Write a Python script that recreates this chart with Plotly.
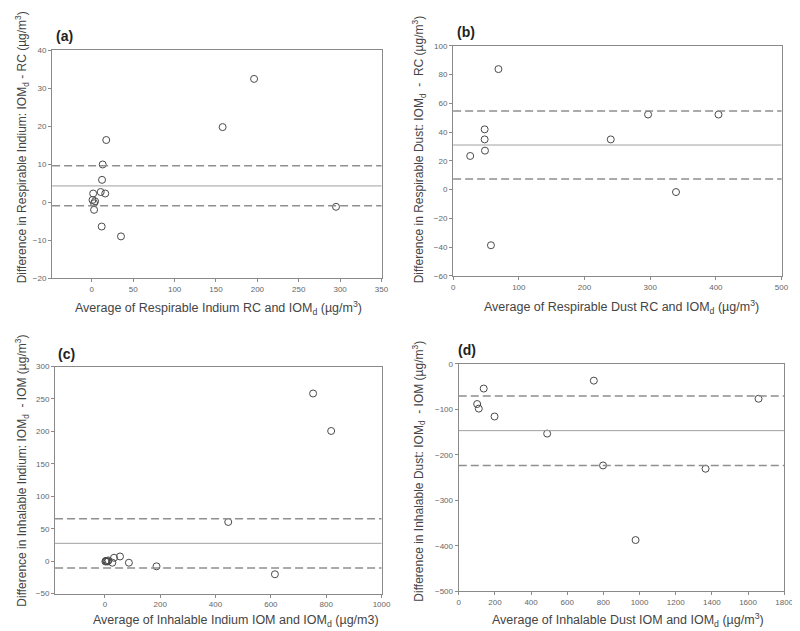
import plotly.graph_objects as go

# ---------------- data ----------------
# (a) Respirable Indium
a_x = [196, 158, 17.4, 13.1, 12.3, 10.7, 16.2, 1.6, 0.8, 3.9, 2.7, 2.7, 11.9, 35.2, 295]
a_y = [32.5, 19.8, 16.4, 9.95, 5.9, 2.7, 2.3, 2.3, 0.6, 0.26, -0.26, -2.0, -6.4, -9.0, -1.2]
a_lines = [4.3, 9.6, -0.95]  # mean, upper, lower

# (b) Respirable Dust
b_x = [26, 48, 48, 48.5, 69, 57.6, 240, 296.8, 404, 339.3]
b_y = [23.4, 41.9, 34.9, 27.1, 83.8, -38.7, 34.9, 52.2, 52.2, -1.7]
b_lines = [31.0, 54.7, 7.4]

# (c) Inhalable Indium
c_x = [752.7, 818, 445.9, 54.7, 33, 27, 13, 2, 6, 10, 4, 86.8, 186.7, 614.7]
c_y = [258.5, 200.7, 60.4, 7.2, 5.2, -2.4, 1.1, -0.5, 0, -0.5, 0.5, -2.4, -8, -20.2]
c_lines = [27.5, 65.5, -10.5]

# (d) Inhalable Dust
d_x = [101.8, 110.9, 138, 198, 489, 747, 798, 978, 1365, 1658]
d_y = [-88.2, -98.3, -54.2, -115.6, -153.2, -36.8, -223.3, -387.3, -230.5, -76.6]
d_lines = [-146.7, -70.8, -223.3]

W, H = 800, 631

panels = [
    dict(x=a_x, y=a_y, lines=a_lines,
         xrange=[-48, 350], xdt=50, x0=0, yrange=[-20, 40], ydt=10,
         px=(42.7, 376.7), py=(39, 270), label="(a)", lab=(45, 24),
         ytitle="Difference in Respirable Indium: IOM<sub>d</sub> - RC (µg/m<sup>3</sup>)",
         ytp=(12.5, 137),
         xtitle="Average of Respirable Indium RC and IOM<sub>d</sub> (µg/m<sup>3</sup>)",
         xtp=(211, 300)),
    dict(x=b_x, y=b_y, lines=b_lines,
         xrange=[0, 500], xdt=100, x0=0, yrange=[-60, 100], ydt=20,
         px=(449.3, 782.3), py=(34.3, 267.7), label="(b)", lab=(451, 20),
         ytitle="Difference in Respirable Dust: IOM<sub>d</sub>  -  RC (µg/m<sup>3</sup>)",
         ytp=(415, 140),
         xtitle="Average of Respirable Dust RC and IOM<sub>d</sub> (µg/m<sup>3</sup>)",
         xtp=(620, 299)),
    dict(x=c_x, y=c_y, lines=c_lines,
         xrange=[-180, 1000], xdt=200, x0=0, yrange=[-50, 300], ydt=50,
         px=(45.7, 376.7), py=(359.7, 590), label="(c)", lab=(47, 347),
         ytitle="Difference in Inhalable Indium: IOM<sub>d</sub>  - IOM (µg/m<sup>3</sup>)",
         ytp=(12.5, 465),
         xtitle="Average of Inhalable Indium IOM and IOM<sub>d</sub> (µg/m3)",
         xtp=(229, 618)),
    dict(x=d_x, y=d_y, lines=d_lines,
         xrange=[0, 1800], xdt=200, x0=0, yrange=[-500, 0], ydt=100,
         px=(455, 785), py=(357, 587.7), label="(d)", lab=(452, 343),
         ytitle="Difference in Inhalable Dust: IOM<sub>d</sub>  - IOM (µg/m<sup>3</sup>)",
         ytp=(415, 466),
         xtitle="Average of Inhalable Dust IOM and IOM<sub>d</sub> (µg/m<sup>3</sup>)",
         xtp=(627, 617)),
]

fig = go.Figure()
layout = dict(width=W, height=H, margin=dict(l=0, r=0, t=0, b=0),
              paper_bgcolor="white", plot_bgcolor="white", showlegend=False,
              font=dict(family="Liberation Sans, Arial, sans-serif", color="#555"))
annotations = []
shapes = []

AX_COL = "#8a8a8a"
for i, p in enumerate(panels):
    n = "" if i == 0 else str(i + 1)
    xa, ya = "x" + n, "y" + n
    fig.add_trace(go.Scatter(
        x=p["x"], y=p["y"], mode="markers", xaxis=xa, yaxis=ya,
        marker=dict(symbol="circle-open", size=7, color="#4a4a4a",
                    line=dict(width=1, color="#4a4a4a")),
        hoverinfo="x+y"))
    common = dict(showgrid=False, zeroline=False, showline=True, linecolor=AX_COL,
                  linewidth=1.2, mirror=True, ticks="outside", ticklen=3,
                  tickcolor=AX_COL, tickwidth=1,
                  tickfont=dict(size=8, color="#666", family="Liberation Sans, Arial"))
    layout["xaxis" + n] = dict(common, domain=[p["px"][0] / W, p["px"][1] / W],
                               anchor=ya, range=p["xrange"], tick0=p["x0"],
                               dtick=p["xdt"])
    layout["yaxis" + n] = dict(common, domain=[1 - p["py"][1] / H, 1 - p["py"][0] / H],
                               anchor=xa, range=p["yrange"], dtick=p["ydt"])
    # mean and limits of agreement
    for j, v in enumerate(p["lines"]):
        shapes.append(dict(type="line", xref=xa + " domain", yref=ya,
                           x0=0, x1=1, y0=v, y1=v,
                           line=dict(color="#a0a0a0" if j == 0 else "#8f8f8f",
                                     width=1 if j == 0 else 1.5,
                                     dash="solid" if j == 0 else "8px,4px")))
    annotations.append(dict(text="<b>" + p["label"] + "</b>", xref="paper", yref="paper",
                            x=p["lab"][0] / W, y=1 - p["lab"][1] / H, showarrow=False,
                            xanchor="left", yanchor="middle",
                            font=dict(size=14, color="#222", family="Liberation Sans, Arial")))
    annotations.append(dict(text=p["ytitle"], xref="paper", yref="paper",
                            x=p["ytp"][0] / W, y=1 - p["ytp"][1] / H, showarrow=False,
                            textangle=-90, xanchor="center", yanchor="middle",
                            font=dict(size=12, color="#444", family="Liberation Sans, Arial")))
    annotations.append(dict(text=p["xtitle"], xref="paper", yref="paper",
                            x=p["xtp"][0] / W, y=1 - p["xtp"][1] / H, showarrow=False,
                            xanchor="center", yanchor="middle",
                            font=dict(size=12.5, color="#444", family="Liberation Sans, Arial")))

layout["annotations"] = annotations
layout["shapes"] = shapes
fig.update_layout(**layout)
fig.write_html("out.html")
